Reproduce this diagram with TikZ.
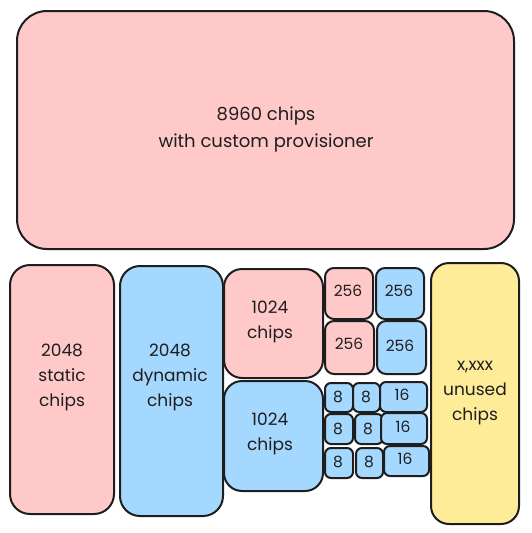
\documentclass[tikz,border=0pt]{standalone}
\usepackage{fontspec}
\setmainfont{Poppins}
\definecolor{pinkf}{HTML}{FFC9C9}
\definecolor{bluef}{HTML}{A5D8FF}
\definecolor{yellowf}{HTML}{FFEC99}
\definecolor{strokec}{HTML}{1E1E1E}
\begin{document}
\begin{tikzpicture}[x=1pt,y=-1pt,
  box/.style={draw=strokec, line width=2pt, inner sep=0pt, anchor=north west},
  lbl/.style={text=strokec, align=center, font=\fontsize{17}{25}\selectfont, inner sep=0pt},
  sm/.style={text=strokec, font=\fontsize{15.5}{16}\selectfont, inner sep=0pt}]
\useasboundingbox (0,0) rectangle (531,533);
% top
\node[box, fill=pinkf, rounded corners=30pt, minimum width=497pt, minimum height=238pt] (top) at (16,10) {};
\node[lbl, font=\fontsize{18}{27}\selectfont] (toptxt) at (266,129) {8960 chips\\with custom provisioner};
% static
\node[box, fill=pinkf, rounded corners=20pt, minimum width=104pt, minimum height=249pt] (static) at (9,264) {};
\node[lbl] (statictxt) at (62,377) {2048\\static\\chips};
% dynamic
\node[box, fill=bluef, rounded corners=20pt, minimum width=103pt, minimum height=250pt] (dynamic) at (119,265) {};
\node[lbl] (dynamictxt) at (170,377) {2048\\dynamic\\chips};
% 1024 pink
\node[box, fill=pinkf, rounded corners=18pt, minimum width=99pt, minimum height=109pt] (kp) at (223,268) {};
\node[lbl] (kptxt) at (270,322) {1024\\chips};
% 1024 blue
\node[box, fill=bluef, rounded corners=18pt, minimum width=99pt, minimum height=110pt] (kb) at (223,380) {};
\node[lbl] (kbtxt) at (270,434) {1024\\chips};
% 256s
\node[box, fill=pinkf, rounded corners=9pt, minimum width=48pt, minimum height=51pt] (ap) at (324,267) {};
\node[sm] (aptxt) at (348,291) {256};
\node[box, fill=bluef, rounded corners=9pt, minimum width=48pt, minimum height=51pt] (ab) at (375,267) {};
\node[sm] (abtxt) at (399,291) {256};
\node[box, fill=pinkf, rounded corners=9pt, minimum width=49pt, minimum height=53pt] (bp) at (324,320) {};
\node[sm] (bptxt) at (349,344) {256};
\node[box, fill=bluef, rounded corners=9pt, minimum width=49pt, minimum height=53pt] (bb) at (376,320) {};
\node[sm] (bbtxt) at (400,346) {256};
% small
\node[box, fill=bluef, rounded corners=6pt, minimum width=28pt, minimum height=29pt] (e1) at (324,382) {};
\node[sm] (e1t) at (338,397) {8};
\node[box, fill=bluef, rounded corners=6pt, minimum width=27pt, minimum height=29pt] (e2) at (352,382) {};
\node[sm] (e2t) at (366,397) {8};
\node[box, fill=bluef, rounded corners=6pt, minimum width=47pt, minimum height=30pt] (s1) at (379,381) {};
\node[sm] (s1t) at (402,395) {16};
\node[box, fill=bluef, rounded corners=6pt, minimum width=28pt, minimum height=30pt] (e3) at (324,413) {};
\node[sm] (e3t) at (338,429) {8};
\node[box, fill=bluef, rounded corners=6pt, minimum width=28pt, minimum height=30pt] (e4) at (354,413) {};
\node[sm] (e4t) at (368,429) {8};
\node[box, fill=bluef, rounded corners=6pt, minimum width=46pt, minimum height=31pt] (s2) at (380,412) {};
\node[sm] (s2t) at (403,427) {16};
\node[box, fill=bluef, rounded corners=6pt, minimum width=28pt, minimum height=30pt] (e5) at (324,447) {};
\node[sm] (e5t) at (338,462) {8};
\node[box, fill=bluef, rounded corners=6pt, minimum width=27pt, minimum height=30pt] (e6) at (355,447) {};
\node[sm] (e6t) at (369,462) {8};
\node[box, fill=bluef, rounded corners=6pt, minimum width=45pt, minimum height=30pt] (s3) at (383,445) {};
\node[sm] (s3t) at (405,459) {16};
% yellow
\node[box, fill=yellowf, rounded corners=18pt, minimum width=88pt, minimum height=261pt] (unused) at (430,262) {};
\node[lbl] (unusedtxt) at (475,393) {x,xxx\\unused\\chips};
\end{tikzpicture}
\end{document}
